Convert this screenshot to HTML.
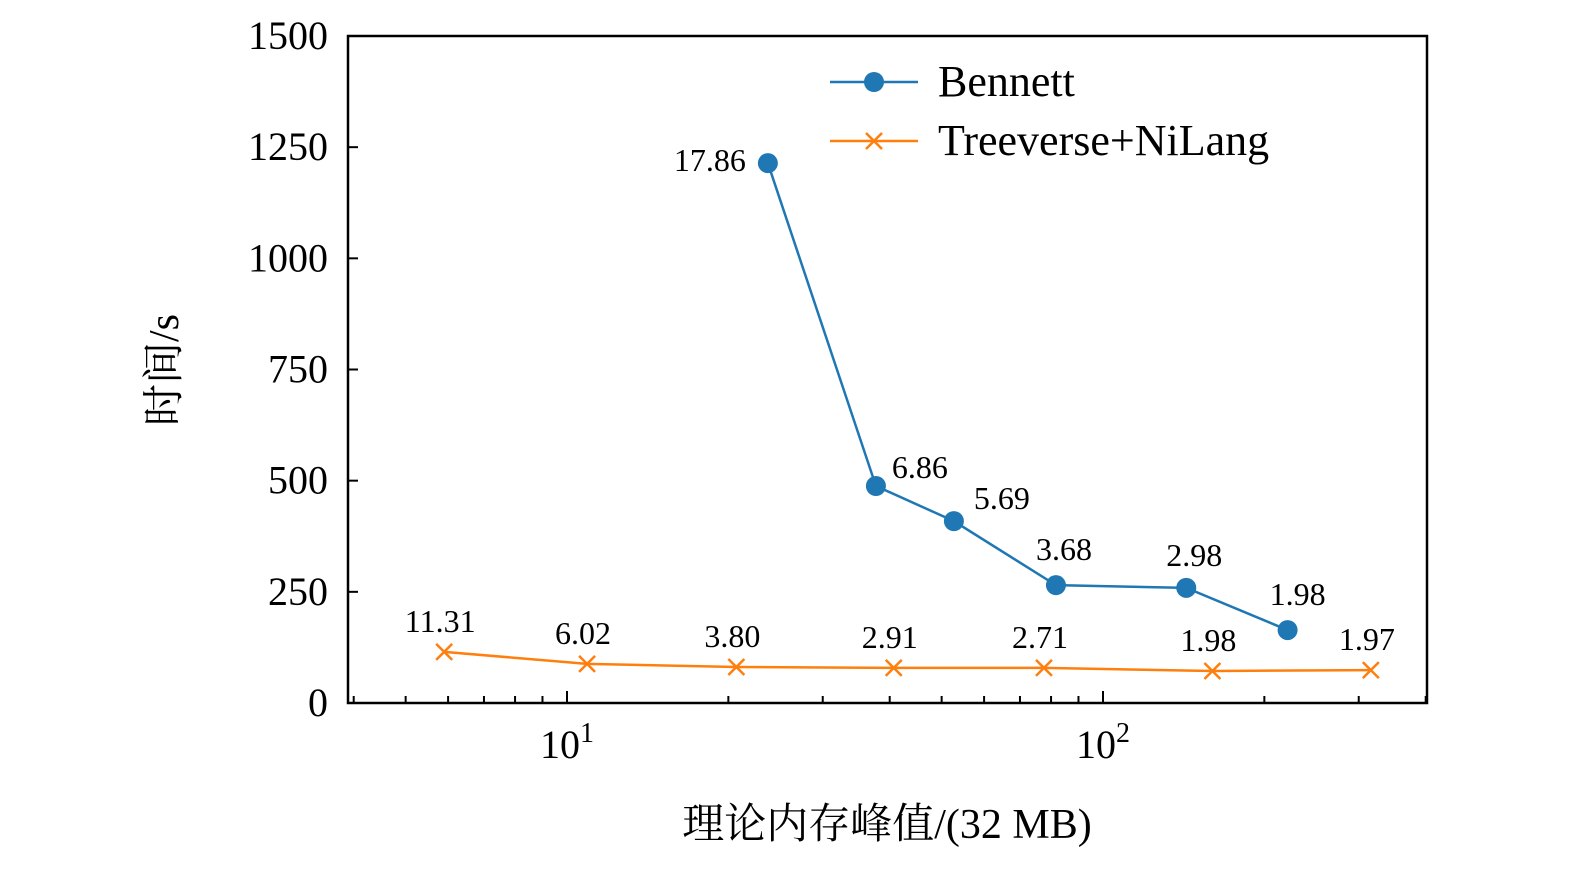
<!DOCTYPE html>
<html><head><meta charset="utf-8"><style>
body{margin:0;background:#fff;}
svg text{font-family:"Liberation Serif","Noto Serif CJK SC",serif;}
</style></head><body>
<svg id="chart" width="1575" height="866" xmlns="http://www.w3.org/2000/svg">
<g id="plot"></g>
</svg>
<script>
const yTicks=[0,250,500,750,1000,1250,1500];
const bennettX=[23.7,37.7,52.7,81.7,143,221];
const bennettY=[1214,488,409,265,259,164];
const bennettLabels=["17.86","6.86","5.69","3.68","2.98","1.98"];
const treeX=[5.9,10.9,20.7,40.7,77.6,160,316];
const treeY=[115,88,81,79,79,72,74];
const treeLabels=["11.31","6.02","3.80","2.91","2.71","1.98","1.97"];

const L=348,R=1427,T=36,B=703;
const sx=v=>567+(Math.log10(v)-1)*536;
const sy=v=>B-(v/1500)*(B-T);
const g=document.getElementById('plot');
const NS='http://www.w3.org/2000/svg';
function mk(tag,attrs,parent){const e=document.createElementNS(NS,tag);for(const k in attrs)e.setAttribute(k,attrs[k]);(parent||g).appendChild(e);return e;}

// frame
const frame=mk('rect',{x:L,y:T,width:R-L,height:B-T,fill:'none',stroke:'#000','stroke-width':2.5});



// y ticks
yTicks.forEach(v=>{
  const t=mk('line',{x1:L,x2:L+10,y1:sy(v),y2:sy(v),stroke:'#000','stroke-width':2});
  
  
  const tx=mk('text',{x:L-20,y:sy(v)+13,'text-anchor':'end','font-size':40});
  tx.textContent=v;
  
  
});
// x ticks (log)
for(let d=1;d<=100;d*=10){
  for(let m=1;m<10;m++){
    const v=d*m;const x=sx(v);
    if(x<L||x>R)continue;
    const major=(m===1);
    const t=mk('line',{x1:x,x2:x,y1:B,y2:B-(major?12:7),stroke:'#000','stroke-width':2});
    
    
    if(major){
      const tx=mk('text',{x:x,y:758,'text-anchor':'middle','font-size':40});
      tx.innerHTML='10<tspan dy="-16" font-size="28">'+Math.log10(v)+'</tspan>';
      
      
    }
  }
}
// axis titles
const xt=mk('text',{x:887,y:838,'text-anchor':'middle','font-size':42});
xt.textContent='理论内存峰值/(32 MB)';


const yt=mk('text',{x:0,y:0,'text-anchor':'middle','font-size':42,transform:'translate(178,370) rotate(-90)'});
yt.textContent='时间/s';



// series
const BLUE='#1f77b4',ORANGE='#ff7f0e';
const bl=mk('polyline',{points:bennettX.map((x,i)=>sx(x)+','+sy(bennettY[i])).join(' '),fill:'none',stroke:BLUE,'stroke-width':2.5});


const tl=mk('polyline',{points:treeX.map((x,i)=>sx(x)+','+sy(treeY[i])).join(' '),fill:'none',stroke:ORANGE,'stroke-width':2.5});


const bOff=[[-22,8,'end'],[16,-8,'start'],[20,-12,'start'],[8,-25,'middle'],[8,-22,'middle'],[10,-25,'middle']];
bennettX.forEach((x,i)=>{
  const cx=sx(x),cy=sy(bennettY[i]);
  const c=mk('circle',{cx:cx,cy:cy,r:10,fill:BLUE});
  
  
  const o=bOff[i];
  const t=mk('text',{x:cx+o[0],y:cy+o[1],'text-anchor':o[2],'font-size':32});
  t.textContent=bennettLabels[i];
  
  
});
treeX.forEach((x,i)=>{
  const cx=sx(x),cy=sy(treeY[i]);
  const p=mk('path',{d:`M${cx-8},${cy-8}L${cx+8},${cy+8}M${cx-8},${cy+8}L${cx+8},${cy-8}`,stroke:ORANGE,'stroke-width':2.5});
  
  
  const t=mk('text',{x:cx-4,y:cy-20,'text-anchor':'middle','font-size':32});
  t.textContent=treeLabels[i];
  
  
});

// legend
const lg=mk('g',{});


const l1=mk('line',{x1:830,x2:918,y1:82,y2:82,stroke:BLUE,'stroke-width':2.5},lg);


const l1c=mk('circle',{cx:874,cy:82,r:10,fill:BLUE},lg);


const l1t=mk('text',{x:938,y:96,'font-size':44},lg);
l1t.textContent='Bennett';


const l2=mk('line',{x1:830,x2:918,y1:141,y2:141,stroke:ORANGE,'stroke-width':2.5},lg);


const l2m=mk('path',{d:'M866,133L882,149M866,149L882,133',stroke:ORANGE,'stroke-width':2.5},lg);


const l2t=mk('text',{x:938,y:155,'font-size':44},lg);
l2t.textContent='Treeverse+NiLang';


</script>
</body></html>
